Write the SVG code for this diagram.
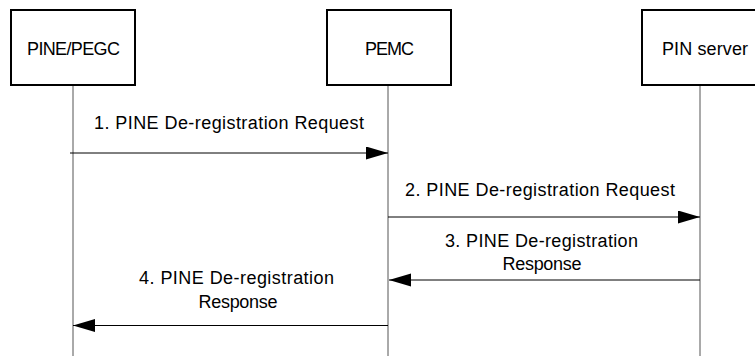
<svg xmlns="http://www.w3.org/2000/svg" width="755" height="356" viewBox="0 0 755 356">
<style>
.box{fill:#fff;stroke:#000;stroke-width:2}
.life{stroke:#555;stroke-width:1;fill:none}
.msg{stroke:#000;stroke-width:1;fill:none}
text{font-family:"Liberation Sans",Arial,sans-serif;font-size:18px;fill:#000;text-anchor:middle}
</style>
<defs>
<marker id="ah" markerUnits="userSpaceOnUse" markerWidth="23" markerHeight="14" refX="22" refY="6.5" orient="auto">
<path d="M0,0 L22,6.5 L0,13 z" fill="#000"/>
</marker>
</defs>
<rect width="755" height="356" fill="#fff"/>
<g id="lifelines">
<line class="life" x1="73" y1="85" x2="73" y2="356"/>
<line class="life" x1="388" y1="85" x2="388" y2="356"/>
<line class="life" x1="700" y1="85" x2="700" y2="356"/>
</g>
<g id="node-pine">
<rect class="box" x="11" y="10" width="124" height="75"/>
<text x="73.5" y="55" textLength="93">PINE/PEGC</text>
</g>
<g id="node-pemc">
<rect class="box" x="327" y="10" width="124" height="75"/>
<text x="389.5" y="55" textLength="49">PEMC</text>
</g>
<g id="node-pin">
<rect class="box" x="642" y="10" width="124" height="75"/>
<text x="705" y="55" textLength="86">PIN server</text>
</g>
<g id="connectors">
<line class="msg" x1="70" y1="153" x2="388" y2="153" marker-end="url(#ah)"/>
<line class="msg" x1="388" y1="217" x2="700" y2="217" marker-end="url(#ah)"/>
<line class="msg" x1="700" y1="280" x2="389" y2="280" marker-end="url(#ah)"/>
<line class="msg" x1="388" y1="325.5" x2="73" y2="325.5" marker-end="url(#ah)"/>
</g>
<g id="labels">
<text x="229" y="129" textLength="270">1. PINE De-registration Request</text>
<text x="540" y="196" textLength="270">2. PINE De-registration Request</text>
<text x="541.5" y="247" textLength="193">3. PINE De-registration</text>
<text x="542" y="270" textLength="79">Response</text>
<text x="236.5" y="284" textLength="195">4. PINE De-registration</text>
<text x="238" y="308" textLength="79">Response</text>
</g>
</svg>
